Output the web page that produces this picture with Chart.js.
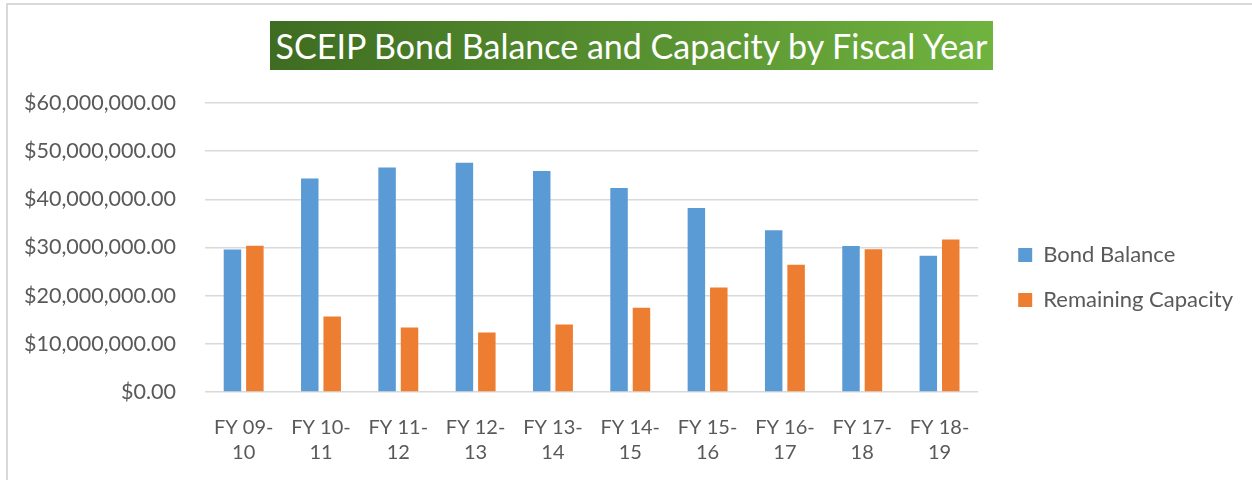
<!DOCTYPE html>
<html>
<head>
<meta charset="utf-8">
<script src="https://cdn.jsdelivr.net/npm/chart.js@4"></script>
<style>
  body { margin: 0; background: #fff; }
  #wrap { position: relative; width: 1252px; height: 480px; overflow: hidden; }
  #frame { position: absolute; left: 6px; top: 3px; width: 1300px; height: 520px;
           border-left: 2px solid #d9d9d9; border-top: 2px solid #d9d9d9; }
  #title { position: absolute; left: 270px; top: 21px; width: 723px; height: 49px;
           background: linear-gradient(to right, #3e6c21, #70b33f);
           color: #fff; font-family: Lato, sans-serif; font-size: 34px;
           line-height: 49px; text-align: center; white-space: nowrap; }
  canvas { position: absolute; left: 0; top: 0; }
</style>
</head>
<body>
<div id="wrap">
  <div id="frame"></div>
  <canvas id="chart" width="1252" height="480"></canvas>
  <div id="title">SCEIP Bond Balance and Capacity by Fiscal Year</div>
</div>
<script>
var years = [["FY 09-", "10"], ["FY 10-", "11"], ["FY 11-", "12"], ["FY 12-", "13"], ["FY 13-", "14"],
             ["FY 14-", "15"], ["FY 15-", "16"], ["FY 16-", "17"], ["FY 17-", "18"], ["FY 18-", "19"]];
var bondBalance = [29600000, 44300000, 46600000, 47600000, 45900000, 42350000, 38200000, 33600000, 30300000, 28300000];
var remainingCapacity = [30350000, 15700000, 13400000, 12350000, 14000000, 17500000, 21700000, 26400000, 29650000, 31650000];

var textColor = '#595959';
var gridColor = '#d9d9d9';

// widen the legend box and nudge it, so there is more room between plot and legend
var legendGap = 17;
var legendLift = 18;
var legendNudge = {
  id: 'legendNudge',
  afterInit: function (chart) {
    var legend = chart.legend;
    var fit = legend.fit;
    legend.fit = function () {
      fit.call(this);
      this.width += legendGap;
    };
  },
  afterLayout: function (chart) {
    var legend = chart.legend;
    legend.left += legendGap;
    legend.top -= legendLift;
    legend.bottom -= legendLift;
  }
};

var ctx = document.getElementById('chart').getContext('2d');

var chart = new Chart(ctx, {
  type: 'bar',
  data: {
    labels: years,
    datasets: [{
      label: 'Bond Balance',
      data: bondBalance,
      backgroundColor: '#5b9bd5',
      barPercentage: 0.78,
      categoryPercentage: 0.58
    }, {
      label: 'Remaining Capacity',
      data: remainingCapacity,
      backgroundColor: '#ed7d31',
      barPercentage: 0.78,
      categoryPercentage: 0.58
    }]
  },
  options: {
    responsive: false,
    animation: false,
    devicePixelRatio: 1,
    layout: {
      // axes reserve their tick padding twice, so pull the outer padding in
      padding: { top: 103, left: -5, right: 9, bottom: -8 }
    },
    scales: {
      x: {
        grid: { display: false, drawTicks: false },
        border: { display: false },
        ticks: {
          color: textColor,
          font: { family: 'Lato', size: 20, lineHeight: 1.25 },
          padding: 23,
          maxRotation: 0,
          autoSkip: false
        }
      },
      y: {
        min: 0,
        max: 60000000,
        grid: { color: gridColor, lineWidth: 1.5, drawTicks: false },
        border: { display: false },
        ticks: {
          stepSize: 10000000,
          color: textColor,
          font: { family: 'Lato', size: 21.5 },
          padding: 29,
          callback: function (v) {
            return '$' + v.toLocaleString('en-US', { minimumFractionDigits: 2, maximumFractionDigits: 2 });
          }
        }
      }
    },
    plugins: {
      tooltip: { enabled: false },
      legend: {
        position: 'right',
        labels: {
          boxWidth: 14,
          boxHeight: 14,
          padding: 23,
          color: textColor,
          font: { family: 'Lato', size: 22 }
        }
      }
    }
  },
  plugins: [legendNudge]
});
</script>
</body>
</html>
